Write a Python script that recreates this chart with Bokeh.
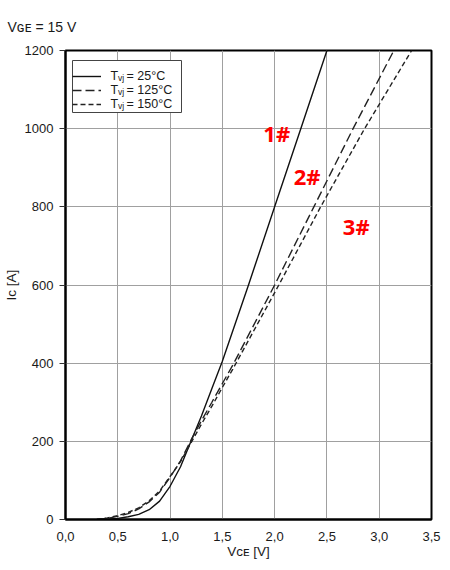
import math
from bokeh.plotting import figure
from bokeh.models import (Range1d, FixedTicker, Legend, LegendItem, Label, BoxAnnotation)
from bokeh.core.properties import value
from bokeh.embed import file_html
from bokeh.resources import INLINE

# ---- data ----
vce_25 = [0.30, 0.40, 0.50, 0.60, 0.70, 0.80, 0.90, 1.00, 1.10, 1.20, 1.30, 1.40, 1.50, 1.75, 2.00, 2.25, 2.50]
ic_25 = [0, 1, 3, 7, 13, 25, 47, 85, 135, 200, 265, 335, 405, 600, 800, 1000, 1200]

vce_125 = [0.30, 0.40, 0.50, 0.60, 0.70, 0.80, 0.90, 1.00, 1.10, 1.20, 1.30, 1.40, 1.50, 1.60, 2.00, 2.375, 2.75, 3.14]
ic_125 = [0, 3, 8, 15, 27, 45, 70, 108, 150, 203, 253, 300, 348, 395, 600, 800, 1000, 1200]

vce_150 = [0.30, 0.40, 0.50, 0.60, 0.70, 0.80, 0.90, 1.00, 1.10, 1.20, 1.30, 1.40, 1.50, 1.60, 2.04, 2.44, 2.86, 3.31]
ic_150 = [0, 4, 10, 18, 30, 48, 73, 110, 148, 196, 244, 290, 338, 385, 600, 800, 1000, 1200]

legend_temps = ["25°C", "125°C", "150°C"]
x_ticks = [0.0, 0.5, 1.0, 1.5, 2.0, 2.5, 3.0, 3.5]
x_tick_labels = ["0,0", "0,5", "1,0", "1,5", "2,0", "2,5", "3,0", "3,5"]
y_ticks = [0, 200, 400, 600, 800, 1000, 1200]

tag_text = ["1#", "2#", "3#"]
tag_x = [2.02, 2.31, 2.78]
tag_y = [990, 880, 752]

title_text = "V\u0262\u1d07 = 15 V"
x_label = "V\u1d04\u1d07 [V]"
y_label = "Ic [A]"

FONT = "Liberation Sans"

W, H = 450, 570
p = figure(width=W, height=H, output_backend="svg", toolbar_location=None,
           x_range=Range1d(0, 3.5), y_range=Range1d(0, 1200),
           min_border_left=65, min_border_right=19, min_border_top=50, min_border_bottom=51,
           title=title_text)

p.title.text_font = FONT
p.title.text_font_size = "14px"
p.title.text_font_style = "normal"
p.title.text_color = "#1a1a1a"
p.title.align = "left"
p.title.offset = -58
p.title.standoff = 31

p.outline_line_color = "black"
p.outline_line_width = 2
p.background_fill_color = "white"
p.border_fill_color = "white"

for ax in (p.xaxis[0], p.yaxis[0]):
    ax.axis_line_color = "black"
    ax.axis_line_width = 2
    ax.major_label_text_font = FONT
    ax.major_label_text_font_size = "13px"
    ax.major_label_text_color = "#1a1a1a"
    ax.minor_tick_line_color = None
    ax.axis_label_text_font = FONT
    ax.axis_label_text_font_size = "13.5px"
    ax.axis_label_text_font_style = "normal"
    ax.axis_label_text_color = "#1a1a1a"

p.xaxis.ticker = FixedTicker(ticks=x_ticks)
p.xaxis.major_label_overrides = {t: l for t, l in zip(x_ticks, x_tick_labels)}
p.xaxis.major_tick_out = 0
p.xaxis.major_tick_in = 0
p.xaxis.major_label_standoff = 12
p.xaxis.axis_label = x_label
p.xaxis.axis_label_standoff = 0

p.yaxis.ticker = FixedTicker(ticks=y_ticks)
p.yaxis.major_tick_out = 6
p.yaxis.major_tick_in = 0
p.yaxis.major_tick_line_color = "#333333"
p.yaxis.major_label_standoff = 6
p.yaxis.axis_label = y_label
p.yaxis.axis_label_standoff = 3

p.grid.grid_line_color = "#a0a0a0"
p.grid.grid_line_width = 1
p.grid.grid_line_alpha = 1

r25 = p.line(vce_25, ic_25, line_color="#111111", line_width=1.4)
r125 = p.line(vce_125, ic_125, line_color="#222222", line_width=1.4, line_dash="9 4")
r150 = p.line(vce_150, ic_150, line_color="#222222", line_width=1.4, line_dash="5 3")

p.text(x=tag_x, y=tag_y, text=tag_text, text_color="#ff0000",
       text_font=value("Open Sans"), text_font_style="bold", text_font_size="22px",
       text_align="center", text_baseline="middle")

# white legend box (frame-relative screen units)
p.add_layout(BoxAnnotation(left=7, right=116, bottom=407, top=459,
                           left_units="screen", right_units="screen",
                           bottom_units="screen", top_units="screen",
                           fill_color="white", fill_alpha=1,
                           line_color="#444444", line_width=1, line_alpha=1))

def lab(x, y, text, size):
    p.add_layout(Label(x=x, y=y, x_units="screen", y_units="screen", text=text,
                       text_font=FONT, text_font_size=size,
                       text_baseline="alphabetic", text_align="left", text_color="#1a1a1a"))

# legend texts
row_y = [448, 434, 420]
for yy, t in zip(row_y, legend_temps):
    lab(45, yy - 4.5, "T", "12.5px")
    lab(52.6, yy - 6.5, "vj", "8.5px")
    lab(61, yy - 4.5, "= " + t, "12.5px")

legend = Legend(items=[LegendItem(label=" ", renderers=[r]) for r in (r25, r125, r150)],
                location=(7, 408), padding=5, spacing=0, margin=0,
                glyph_width=29, glyph_height=14, label_height=14, label_width=66,
                label_standoff=4, border_line_color=None,
                background_fill_alpha=0, label_text_font_size="1px")
p.add_layout(legend, "center")

open("out.html", "w").write(file_html(p, INLINE))
